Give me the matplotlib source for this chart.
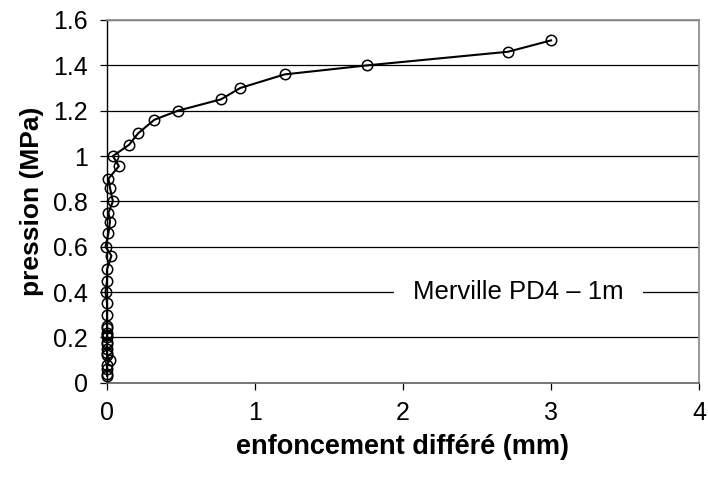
import matplotlib.pyplot as plt

# enfoncement différé (mm) et pression (MPa)
enfoncement = [0.0, 0.0, 0.0, 0.0, 0.02, 0.0, 0.0, 0.0, 0.0, 0.0,
               0.0, 0.0, 0.0, 0.0, 0.0, 0.0, 0.0, -0.01, 0.0, 0.0,
               0.03, -0.01, 0.01, 0.02, 0.01, 0.04, 0.02, 0.01, 0.08, 0.04,
               0.15, 0.21, 0.32, 0.48, 0.77, 0.90, 1.20, 1.76, 2.71, 3.00]
pression = [0.03, 0.04, 0.06, 0.08, 0.10, 0.12, 0.13, 0.15, 0.17, 0.18,
            0.20, 0.21, 0.22, 0.24, 0.25, 0.30, 0.35, 0.40, 0.45, 0.50,
            0.56, 0.60, 0.66, 0.71, 0.75, 0.80, 0.86, 0.90, 0.955, 1.00,
            1.05, 1.10, 1.16, 1.20, 1.25, 1.30, 1.36, 1.40, 1.46, 1.51]

xticks = [0, 1, 2, 3, 4]
yticks = [0, 0.2, 0.4, 0.6, 0.8, 1, 1.2, 1.4, 1.6]
ytick_labels = ['0', '0.2', '0.4', '0.6', '0.8', '1', '1.2', '1.4', '1.6']

plt.rcParams['font.family'] = ['Liberation Sans', 'DejaVu Sans']

fig = plt.figure(figsize=(7.08, 4.83), dpi=100)
ax = fig.add_axes([107 / 708, 1 - 382.7 / 483, (699 - 107) / 708, (382.7 - 20) / 483])

ax.plot(enfoncement, pression, color='black', linewidth=1.5, marker='o',
        markersize=7.5, markerfacecolor='none', markeredgecolor='black',
        markeredgewidth=1.1, clip_on=False, zorder=3)

ax.set_xlim(0, 4)
ax.set_ylim(0, 1.6)
ax.set_xticks(xticks)
ax.set_yticks(yticks)
ax.set_yticklabels(ytick_labels)
ax.yaxis.grid(True, color='black', linewidth=0.9)
ax.set_axisbelow(True)

for side in ['top', 'right']:
    ax.spines[side].set_color('#909090')
    ax.spines[side].set_linewidth(1.3)
ax.spines['bottom'].set_color('#606060')
ax.spines['bottom'].set_linewidth(1.2)
ax.spines['left'].set_color('black')
ax.spines['left'].set_linewidth(1.0)

ax.tick_params(axis='both', direction='out', length=5, width=0.9, labelsize=18, colors='black')
ax.tick_params(axis='x', pad=8)
ax.tick_params(axis='y', pad=9)

ax.set_xlabel('enfoncement différé (mm)', fontsize=19.5, fontweight='bold', labelpad=7)
ax.set_ylabel('pression (MPa)', fontsize=19, fontweight='bold', labelpad=6)

ax.text(2.78, 0.4, 'Merville PD4 – 1m', fontsize=18.5, ha='center', va='center',
        bbox=dict(facecolor='white', edgecolor='none', pad=14), zorder=4)

fig.savefig('out.png', dpi=100)
